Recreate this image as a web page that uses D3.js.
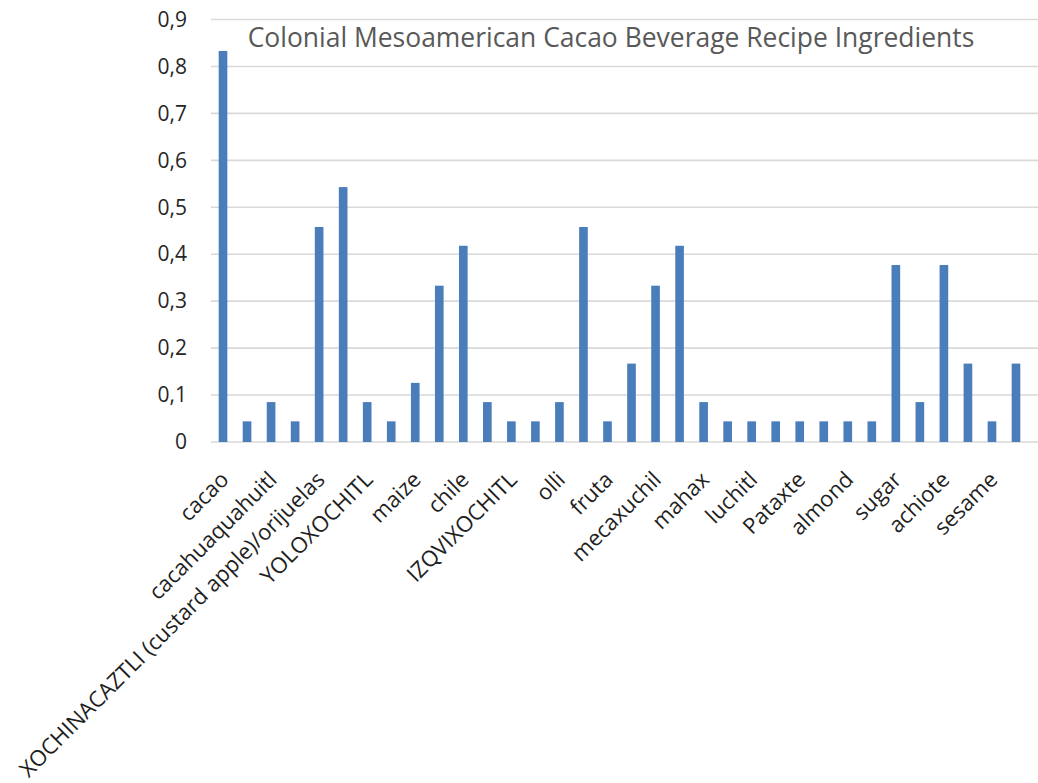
<!DOCTYPE html>
<html>
<head>
<meta charset="utf-8">
<style>
  body { margin: 0; background: #fff; }
  svg { display: block; }
  .tick text { font-family: "Open Sans", sans-serif; }
</style>
<script src="https://d3js.org/d3.v7.min.js"></script>
</head>
<body>
<script>
// shares per ingredient (34 categories, every other one labelled)
const values = [
  0.833, 0.044, 0.085, 0.044, 0.458, 0.543, 0.085, 0.044, 0.126, 0.333,
  0.418, 0.085, 0.044, 0.044, 0.085, 0.458, 0.044, 0.167, 0.333, 0.418,
  0.085, 0.044, 0.044, 0.044, 0.044, 0.044, 0.044, 0.044, 0.377, 0.085,
  0.377, 0.167, 0.044, 0.167
];
const tickLabels = [
  "cacao", "cacahuaquahuitl", "XOCHINACAZTLI (custard apple)/orijuelas",
  "YOLOXOCHITL", "maize", "chile", "IZQVIXOCHITL", "olli", "fruta",
  "mecaxuchil", "mahax", "luchitl", "Pataxte", "almond", "sugar",
  "achiote", "sesame"
];
const yTicks = [0, 0.1, 0.2, 0.3, 0.4, 0.5, 0.6, 0.7, 0.8, 0.9];
const title = "Colonial Mesoamerican Cacao Beverage Recipe Ingredients";

const w = 1038, h = 783;
const plotLeft = 211, plotRight = 1028, plotTop = 19.5, plotBottom = 442;

const svg = d3.select("body").append("svg")
  .attr("width", w).attr("height", h);

const x = d3.scaleBand()
  .domain(d3.range(values.length))
  .range([plotLeft, plotRight])
  .paddingInner(0.64).paddingOuter(0.32);

const y = d3.scaleLinear().domain([0, 0.9]).range([plotBottom, plotTop]);

// gridlines
svg.append("g")
  .selectAll("line")
  .data(yTicks)
  .join("line")
  .attr("x1", plotLeft).attr("x2", w)
  .attr("y1", d => y(d)).attr("y2", d => y(d))
  .attr("stroke", "#d9d9d9").attr("stroke-width", 1.6);

// y axis labels
const yAxis = d3.axisLeft(y).tickValues(yTicks)
  .tickFormat(d => d === 0 ? "0" : d3.format(".1f")(d).replace(".", ","))
  .tickSize(0).tickPadding(24);
svg.append("g")
  .attr("transform", `translate(${plotLeft},0)`)
  .call(yAxis)
  .call(g => g.select(".domain").remove())
  .selectAll("text")
  .attr("font-size", 21).attr("fill", "#262626");

// bars
svg.append("g")
  .selectAll("rect")
  .data(values)
  .join("rect")
  .attr("x", (d, i) => x(i))
  .attr("y", d => y(d))
  .attr("width", x.bandwidth())
  .attr("height", d => plotBottom - y(d))
  .attr("fill", "#4a7ebb");

// x axis labels, every second category
const xAxis = d3.axisBottom(x)
  .tickValues(d3.range(0, values.length, 2))
  .tickFormat(i => tickLabels[i / 2])
  .tickSize(0);
svg.append("g")
  .attr("transform", `translate(0,${plotBottom})`)
  .call(xAxis)
  .call(g => g.select(".domain").remove())
  .selectAll("text")
  .attr("font-size", 22).attr("fill", "#1f1f1f")
  .attr("text-anchor", "end")
  .attr("dy", 0)
  .attr("y", 0)
  .attr("transform", "translate(7,39) rotate(-45)");

// title
const t = svg.append("text")
  .attr("x", 611).attr("y", 47)
  .attr("text-anchor", "middle")
  .attr("font-family", "Open Sans, sans-serif")
  .attr("font-size", 24)
  .attr("fill", "#595959")
  .text(title);
const tw = t.node().getComputedTextLength();
t.attr("font-size", 24 * 727 / tw);
</script>
</body>
</html>
